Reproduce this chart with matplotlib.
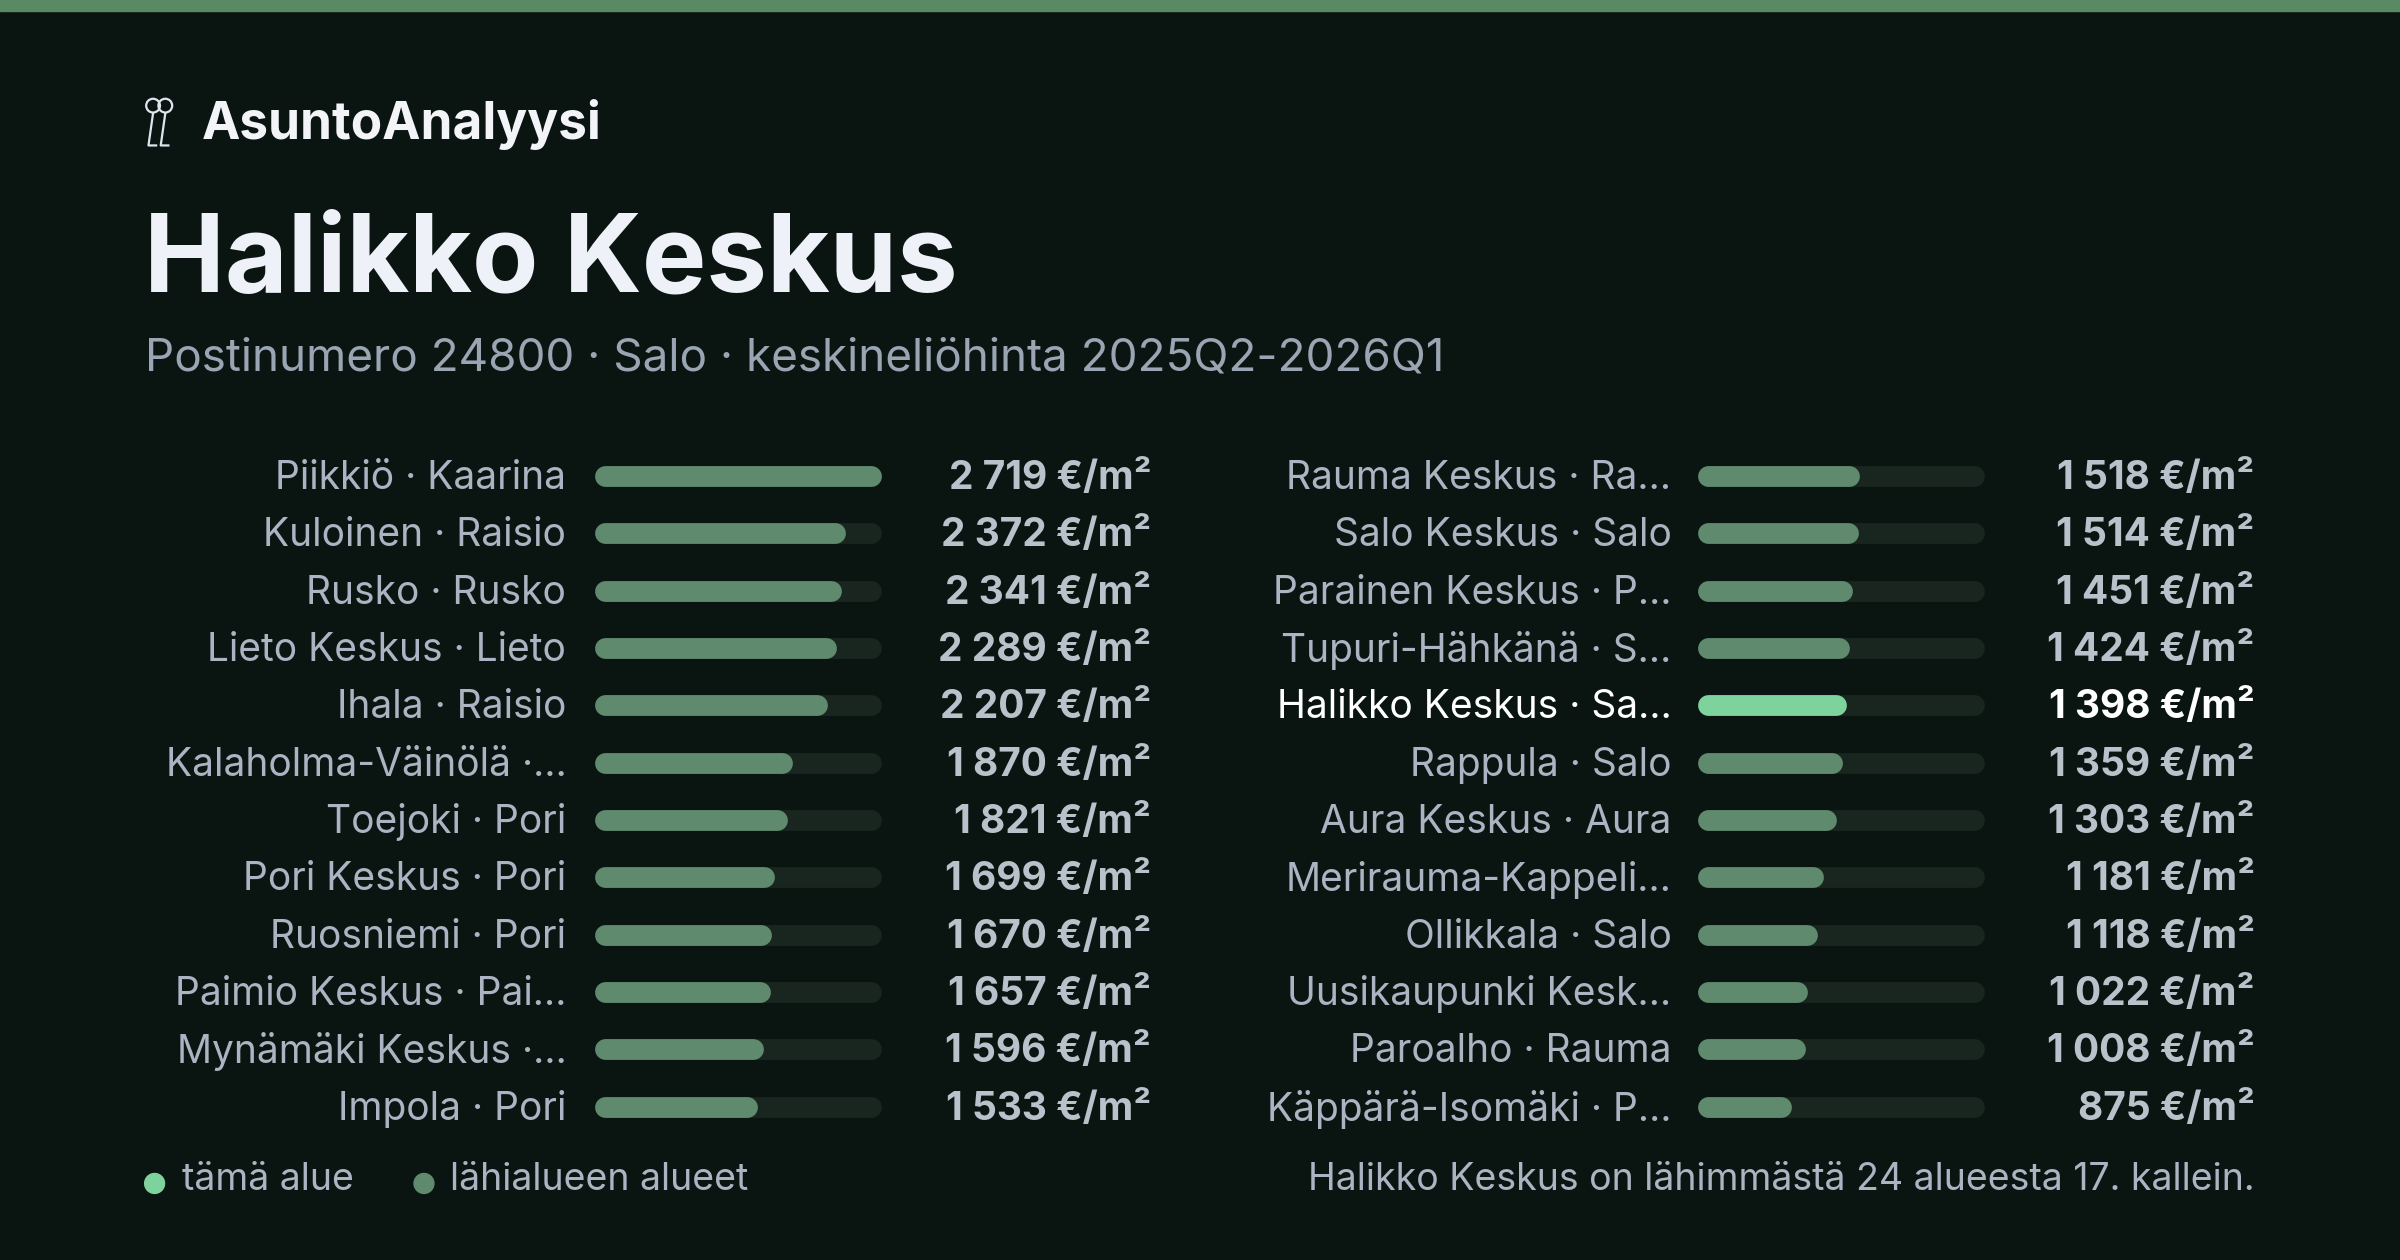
import matplotlib
matplotlib.use("Agg")
import matplotlib.pyplot as plt
from matplotlib.patches import Circle

plt.rcParams["font.family"] = ["Inter", "DejaVu Sans"]

left_labels = ["Piikkiö · Kaarina", "Kuloinen · Raisio", "Rusko · Rusko", "Lieto Keskus · Lieto",
               "Ihala · Raisio", "Kalaholma-Väinölä ·…", "Toejoki · Pori", "Pori Keskus · Pori",
               "Ruosniemi · Pori", "Paimio Keskus · Pai…", "Mynämäki Keskus ·…", "Impola · Pori"]
left_values = [2719, 2372, 2341, 2289, 2207, 1870, 1821, 1699, 1670, 1657, 1596, 1533]
right_labels = ["Rauma Keskus · Ra…", "Salo Keskus · Salo", "Parainen Keskus · P…",
                "Tupuri-Hähkänä · S…", "Halikko Keskus · Sa…", "Rappula · Salo", "Aura Keskus · Aura",
                "Merirauma-Kappeli…", "Ollikkala · Salo", "Uusikaupunki Kesk…", "Paroalho · Rauma",
                "Käppärä-Isomäki · P…"]
right_values = [1518, 1514, 1451, 1424, 1398, 1359, 1303, 1181, 1118, 1022, 1008, 875]
highlight = "Halikko Keskus · Sa…"

BG = "#0a1512"
BAR = "#5f8a6d"
TRACK = "#18261f"
HI = "#7ed39c"
LABEL = "#aab4c2"
VALUE = "#b9c1cb"


def fmt(v):
    return f"{v:,}".replace(",", " ") + " €/m²"


fig = plt.figure(figsize=(24, 12.6), dpi=100, facecolor=BG)
ax = fig.add_axes([0, 0, 1, 1])
ax.set_xlim(0, 1568)
ax.set_ylim(823, 0)
ax.axis("off")
ax.set_facecolor(BG)

ax.axhspan(0, 7, color="#5a8a64")

# logo
for cx in (100, 108):
    ax.add_patch(Circle((cx, 69), 4.5, fill=False, ec="#dfe5ee", lw=1.6))
    ax.plot([cx, cx - 3, cx + 2], [74, 95, 95], color="#dfe5ee", lw=1.6)
ax.text(132, 81, "AsuntoAnalyysi", color="#f2f4f8", fontsize=37, fontweight="bold", va="center")
ax.text(94, 172, "Halikko Keskus", color="#eef1f7", fontsize=78, fontweight="bold", va="center")
ax.text(95, 234, "Postinumero 24800 · Salo · keskineliöhinta 2025Q2-2026Q1", color="#9aa5b3",
        fontsize=33, va="center")

vmax = max(left_values)
r = 6
for labels, values, x_label, x0, x_val in [(left_labels, left_values, 370, 389, 752),
                                             (right_labels, right_values, 1092, 1110, 1473)]:
    w = 186
    for i, (lab, v) in enumerate(zip(labels, values)):
        y = 311 + i * 37.45
        is_hi = lab == highlight
        ax.plot([x0 + r, x0 + w - r], [y, y], color=TRACK, lw=15, solid_capstyle="round")
        ax.plot([x0 + r, x0 + v / vmax * w - r], [y, y], color=HI if is_hi else BAR, lw=15,
                solid_capstyle="round")
        ax.text(x_label, y + 1.5, lab, ha="right", va="center", fontsize=28,
                color="#ffffff" if is_hi else LABEL)
        ax.text(x_val, y + 1.5, fmt(v), ha="right", va="center", fontsize=28, fontweight="bold",
                color="#ffffff" if is_hi else VALUE)

ax.add_patch(Circle((101, 773), 6.5, color=HI))
ax.text(119, 771, "tämä alue", color=LABEL, fontsize=27, va="center")
ax.add_patch(Circle((277, 773), 6.5, color=BAR))
ax.text(294, 771, "lähialueen alueet", color=LABEL, fontsize=27, va="center")
ax.text(1473, 771, "Halikko Keskus on lähimmästä 24 alueesta 17. kallein.", color=LABEL,
        fontsize=27, va="center", ha="right")

fig.savefig("out.png", dpi=100, facecolor=BG)
